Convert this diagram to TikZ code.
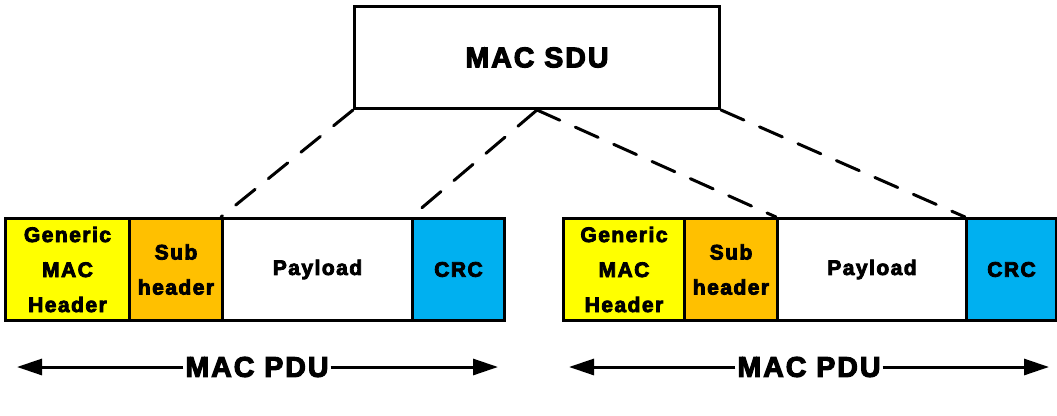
\documentclass[tikz,border=0pt]{standalone}
\usepackage{fontspec}
\usetikzlibrary{arrows.meta}
\newfontfamily\labfont[LetterSpace=7,BoldFeatures={FakeBold=4}]{Liberation Sans}
\definecolor{hdryellow}{HTML}{FFFF00}
\definecolor{suborange}{HTML}{FFC000}
\definecolor{crcblue}{HTML}{00B0F0}
\begin{document}
\begin{tikzpicture}[x=1pt, y=-1pt,
  cell/.style={draw=black, line width=3pt, anchor=north west, inner sep=0pt,
    minimum height=102pt, align=center,
    font=\labfont\bfseries\fontsize{21}{35}\selectfont},
  bigtext/.style={font=\labfont\bfseries\fontsize{28.5}{32}\selectfont, inner xsep=2pt, inner ysep=0pt},
  link/.style={line width=3pt, line cap=round, dash pattern=on 25pt off 17pt},
  span/.style={line width=3pt, -{Triangle[length=25pt,width=16pt]}}
]
\useasboundingbox (0,0) rectangle (1057,415);

% service data unit on top
\node[draw=black, line width=3pt, anchor=north west, minimum width=365pt, minimum height=102pt,
  inner sep=0pt, font=\labfont\bfseries\fontsize{28.5}{32}\selectfont] (sdu) at (353,5) {MAC SDU};

% first protocol data unit
\node[cell, fill=hdryellow, minimum width=124pt] (ghL) at (4,217) {Generic\\MAC\\Header};
\node[cell, fill=suborange, minimum width=93pt] (shL) at (128,217) {Sub\\header};
\node[cell, fill=white, minimum width=190pt] (payL) at (221,217) {Payload};
\node[cell, fill=crcblue, minimum width=92pt] (crcL) at (411,217) {CRC};

% second protocol data unit
\node[cell, fill=hdryellow, minimum width=121pt] (ghR) at (562,217) {Generic\\MAC\\Header};
\node[cell, fill=suborange, minimum width=93pt] (shR) at (683,217) {Sub\\header};
\node[cell, fill=white, minimum width=189pt] (payR) at (776,217) {Payload};
\node[cell, fill=crcblue, minimum width=90pt] (crcR) at (965,217) {CRC};

% mapping of the SDU onto both payloads
\draw[link] (sdu.south west) -- (payL.north west);
\draw[link] (sdu.south) -- (crcL.north west);
\draw[link] (sdu.south) -- (payR.north west);
\draw[link] (sdu.south east) -- (crcR.north west);

% PDU extent arrows
\node[bigtext] (pduL) at (257,367) {MAC PDU};
\coordinate (pduLa) at (17,367);
\coordinate (pduLb) at (498,367);
\draw[span] (pduL.west) -- (pduLa);
\draw[span] (pduL.east) -- (pduLb);

\node[bigtext] (pduR) at (809,367) {MAC PDU};
\coordinate (pduRa) at (569,367);
\coordinate (pduRb) at (1049,367);
\draw[span] (pduR.west) -- (pduRa);
\draw[span] (pduR.east) -- (pduRb);
\end{tikzpicture}
\end{document}
